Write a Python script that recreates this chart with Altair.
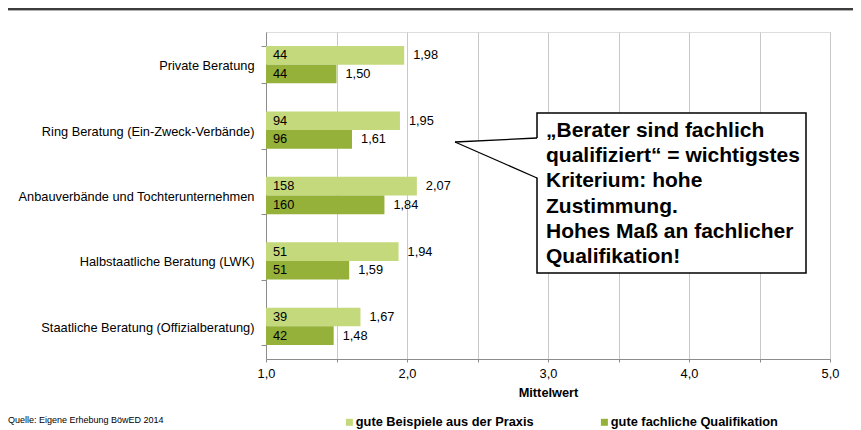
import altair as alt
import pandas as pd

categories = [
    "Private Beratung",
    "Ring Beratung (Ein-Zweck-Verbände)",
    "Anbauverbände und Tochterunternehmen",
    "Halbstaatliche Beratung (LWK)",
    "Staatliche Beratung (Offizialberatung)",
]
series = ["gute Beispiele aus der Praxis", "gute fachliche Qualifikation"]
praxis_mean = [1.98, 1.95, 2.07, 1.94, 1.67]
praxis_n = [44, 94, 158, 51, 39]
quali_mean = [1.50, 1.61, 1.84, 1.59, 1.48]
quali_n = [44, 96, 160, 51, 42]
colors = ["#c3d97c", "#95b13a"]
x_ticks = [1.0, 1.5, 2.0, 2.5, 3.0, 3.5, 4.0, 4.5, 5.0]

callout_lines = [
    "„Berater sind fachlich",
    "qualifiziert“ = wichtigstes",
    "Kriterium: hohe",
    "Zustimmung.",
    "Hohes Maß an fachlicher",
    "Qualifikation!",
]
source_text = "Quelle: Eigene Erhebung BöwED 2014"

rows = []
for i, c in enumerate(categories):
    rows.append({"cat": c, "series": series[0], "mean": praxis_mean[i], "n": praxis_n[i]})
    rows.append({"cat": c, "series": series[1], "mean": quali_mean[i], "n": quali_n[i]})
df = pd.DataFrame(rows)

FONT = "Liberation Sans"
W, H = 564, 327
FS = 12.8

y_enc = alt.Y(
    "cat:N",
    sort=categories,
    title=None,
    scale=alt.Scale(paddingInner=0.43, paddingOuter=0.215),
    axis=alt.Axis(
        labelFont=FONT, labelFontSize=FS, labelColor="#000000", labelLimit=300,
        tickBand="extent", tickSize=5, tickColor="#8c8c8c", domainColor="#8c8c8c",
        labelPadding=7, labelOffset=1, grid=False,
    ),
)
yoff = alt.YOffset("series:N", sort=series, scale=alt.Scale(paddingInner=0, paddingOuter=0))
x_scale = alt.Scale(domain=[1, 5], nice=False, zero=False)

base = alt.Chart(df)

bars = base.mark_bar().encode(
    x=alt.X(
        "mean:Q", scale=x_scale, title="Mittelwert",
        axis=alt.Axis(
            values=x_ticks,
            labelExpr="datum.value % 1 == 0 ? replace(format(datum.value, '.1f'), '.', ',') : ''",
            labelFont=FONT, labelFontSize=FS, labelColor="#000000", labelPadding=5,
            labelFlush=False, labelOverlap=False,
            tickSize=3, tickColor="#8c8c8c", domainColor="#8c8c8c",
            grid=True, gridColor="#c8c8c8",
            titleFont=FONT, titleFontSize=FS, titleFontWeight="bold", titleColor="#000000",
            titlePadding=7,
        ),
    ),
    x2=alt.datum(1),
    y=y_enc,
    yOffset=yoff,
    color=alt.Color(
        "series:N", sort=series, scale=alt.Scale(domain=series, range=colors),
        legend=alt.Legend(
            title=None, orient="none", legendX=77, legendY=383.5, direction="horizontal",
            symbolType="square", symbolSize=49, symbolStrokeWidth=0,
            labelFont=FONT, labelFontSize=12.8, labelFontWeight="bold", labelColor="#000000",
            labelOffset=0, columnPadding=64, labelLimit=400,
        ),
    ),
)

n_text = base.mark_text(align="left", baseline="middle", dx=7, font=FONT, fontSize=FS, color="#000000").encode(
    x=alt.datum(1),
    y=alt.Y("cat:N", sort=categories),
    yOffset=yoff,
    text=alt.Text("n:Q"),
)

v_text = base.mark_text(align="left", baseline="middle", dx=9, font=FONT, fontSize=FS, color="#000000").encode(
    x=alt.X("mean:Q"),
    y=alt.Y("cat:N", sort=categories),
    yOffset=yoff,
    text="lbl:N",
).transform_calculate(lbl="replace(format(datum.mean, '.2f'), '.', ',')")

one = alt.Data(values=[{"k": 1}])

box = alt.Chart(one).mark_rect(fill="white", stroke="#000000", strokeWidth=1.5).encode(
    x=alt.value(271), x2=alt.value(540), y=alt.value(81), y2=alt.value(241)
)

tri_pts = alt.Data(values=[
    {"px": 189, "py": 110, "py2": 110},
    {"px": 272.5, "py": 106, "py2": 146},
])
px_scale = alt.Scale(domain=[0, W], nice=False, zero=False)
py_scale = alt.Scale(domain=[0, H], nice=False, zero=False, reverse=True)

tri = alt.Chart(tri_pts).mark_area(color="white", opacity=1).encode(
    x=alt.X("px:Q", scale=px_scale, axis=None),
    y=alt.Y("py:Q", scale=py_scale, axis=None),
    y2="py2:Q",
)

edge_pts = alt.Data(values=[
    {"e": "a", "px": 189, "py": 110}, {"e": "a", "px": 271, "py": 106},
    {"e": "b", "px": 189, "py": 110}, {"e": "b", "px": 271, "py": 146},
])
edges = alt.Chart(edge_pts).mark_line(color="#000000", strokeWidth=1.3).encode(
    x=alt.X("px:Q", scale=px_scale, axis=None),
    y=alt.Y("py:Q", scale=py_scale, axis=None),
    detail="e:N",
)

callout_text = alt.Chart(one).mark_text(
    align="left", baseline="alphabetic", font=FONT, fontSize=21, fontWeight="bold",
    color="#000000", lineHeight=25.2,
).encode(x=alt.value(280), y=alt.value(105), text=alt.value(callout_lines))

src = alt.Chart(one).mark_text(
    align="left", baseline="middle", font=FONT, fontSize=9, color="#000000"
).encode(x=alt.value(-258), y=alt.value(388), text=alt.value(source_text))

top_line = alt.Chart(one).mark_rule(color="#3c3c3c", strokeWidth=2).encode(
    x=alt.value(-258), x2=alt.value(587), y=alt.value(-23)
)
top_shadow = alt.Chart(one).mark_rule(color="#b0b0b0", strokeWidth=1).encode(
    x=alt.value(-258), x2=alt.value(587), y=alt.value(-21.5)
)

main = alt.layer(bars, n_text, v_text)
annot = alt.layer(box, tri, edges, callout_text, src, top_line, top_shadow)

chart = alt.layer(main, annot).resolve_scale(x="independent", y="independent").properties(
    width=W, height=H,
    autosize=alt.AutoSizeParams(type="none"),
    padding={"left": 258, "top": 24, "right": 23, "bottom": 71},
).configure_view(stroke="#c8c8c8", strokeWidth=1).configure(background="white")

chart.save("out.html", embed_options={"renderer": "svg", "actions": False})
